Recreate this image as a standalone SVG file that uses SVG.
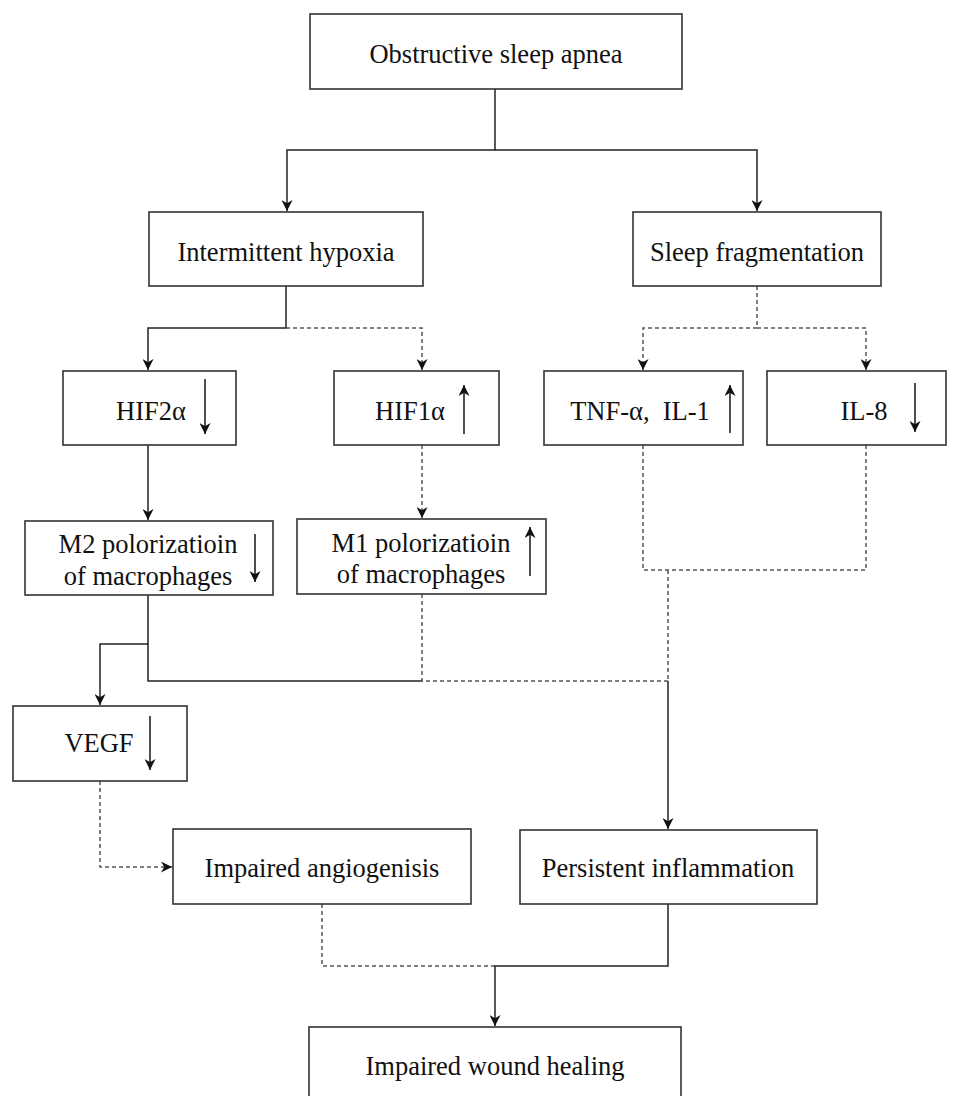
<svg xmlns="http://www.w3.org/2000/svg" width="956" height="1096" viewBox="0 0 956 1096">
<style>
.box{fill:#fff;stroke:#333;stroke-width:1.6}
.t{font-family:"Liberation Serif","Times New Roman",serif;font-size:26.5px;fill:#111;text-anchor:middle}
.s{fill:none;stroke:#222;stroke-width:1.5}
.d{fill:none;stroke:#555;stroke-width:1.5;stroke-dasharray:4 3}
.ia{fill:none;stroke:#222;stroke-width:1.6}
</style>
<defs>
<marker id="ah" viewBox="0 0 10 10" refX="10" refY="5" markerWidth="12" markerHeight="11" markerUnits="userSpaceOnUse" orient="auto">
<path d="M0,0 L10,5 L0,10 L3,5 z" fill="#111"/>
</marker>
</defs>
<rect width="956" height="1096" fill="#fff"/>
<g id="connectors">
<path class="s" d="M495,89 V150 H287 V211" marker-end="url(#ah)"/>
<path class="s" d="M495,150 H757 V211" marker-end="url(#ah)"/>
<path class="s" d="M286,286 V328 H148 V370" marker-end="url(#ah)"/>
<path class="d" d="M286,328 H422 V370" marker-end="url(#ah)"/>
<path class="d" d="M757,286 V328 H643 V370" marker-end="url(#ah)"/>
<path class="d" d="M757,328 H866 V370" marker-end="url(#ah)"/>
<path class="s" d="M148,445 V520" marker-end="url(#ah)"/>
<path class="d" d="M422,445 V518" marker-end="url(#ah)"/>
<path class="s" d="M148,595 V681 H422"/>
<path class="s" d="M148,644 H100 V705" marker-end="url(#ah)"/>
<path class="d" d="M422,594 V681 H668"/>
<path class="d" d="M643,445 V570 H866 V445"/>
<path class="d" d="M668,570 V681"/>
<path class="s" d="M668,681 V829" marker-end="url(#ah)"/>
<path class="d" d="M100,781 V867 H172" marker-end="url(#ah)"/>
<path class="d" d="M322,904 V966 H495"/>
<path class="s" d="M668,904 V966 H495 V1026" marker-end="url(#ah)"/>
</g>
<g id="osa"><rect class="box" x="310" y="14" width="372" height="75"/><text class="t" x="496" y="63">Obstructive sleep apnea</text></g>
<g id="ih"><rect class="box" x="149" y="212" width="274" height="74"/><text class="t" x="286" y="261">Intermittent hypoxia</text></g>
<g id="sf"><rect class="box" x="633" y="212" width="248" height="74"/><text class="t" x="757" y="261">Sleep fragmentation</text></g>
<g id="hif2"><rect class="box" x="63" y="371" width="173" height="74"/><text class="t" x="151" y="420">HIF2α</text><path class="ia" d="M205,379 V434" marker-end="url(#ah)"/></g>
<g id="hif1"><rect class="box" x="334" y="371" width="165" height="74"/><text class="t" x="410" y="420">HIF1α</text><path class="ia" d="M464,434 V385" marker-end="url(#ah)"/></g>
<g id="tnf"><rect class="box" x="544" y="371" width="199" height="74"/><text class="t" x="640" y="420" xml:space="preserve">TNF-α,  IL-1</text><path class="ia" d="M730,433 V385" marker-end="url(#ah)"/></g>
<g id="il8"><rect class="box" x="767" y="371" width="179" height="74"/><text class="t" x="864" y="420">IL-8</text><path class="ia" d="M915,383 V432" marker-end="url(#ah)"/></g>
<g id="m2"><rect class="box" x="25" y="521" width="248" height="74"/><text class="t" x="148" y="553">M2 polorizatioin</text><text class="t" x="148" y="585">of macrophages</text><path class="ia" d="M255,534 V582" marker-end="url(#ah)"/></g>
<g id="m1"><rect class="box" x="297" y="519" width="249" height="75"/><text class="t" x="421" y="552">M1 polorizatioin</text><text class="t" x="421" y="583">of macrophages</text><path class="ia" d="M530,576 V527" marker-end="url(#ah)"/></g>
<g id="vegf"><rect class="box" x="13" y="706" width="174" height="75"/><text class="t" x="99" y="752">VEGF</text><path class="ia" d="M150,716 V770" marker-end="url(#ah)"/></g>
<g id="angio"><rect class="box" x="173" y="829" width="298" height="75"/><text class="t" x="322" y="877">Impaired angiogenisis</text></g>
<g id="infl"><rect class="box" x="520" y="830" width="297" height="74"/><text class="t" x="668" y="877">Persistent inflammation</text></g>
<g id="wound"><rect class="box" x="309" y="1027" width="372" height="80"/><text class="t" x="495" y="1075">Impaired wound healing</text></g>
</svg>
